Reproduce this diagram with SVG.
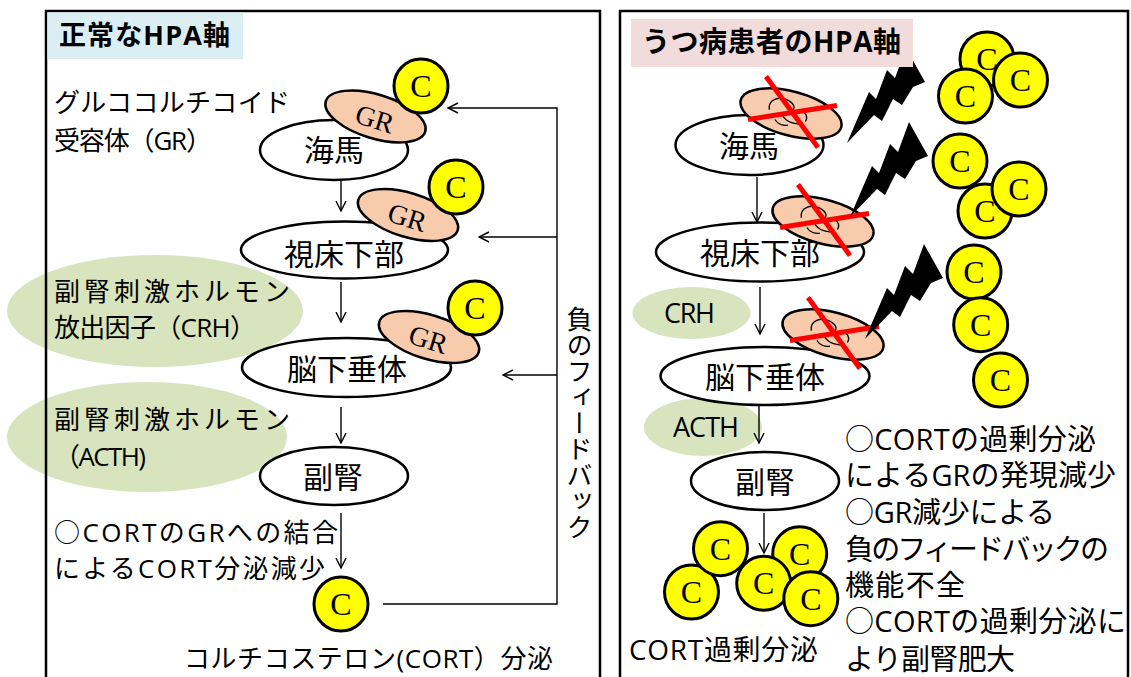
<svg xmlns="http://www.w3.org/2000/svg" width="1131" height="677" viewBox="0 0 1131 677">
<defs>
<style>
  text { font-family: "Open Sans", "Noto Sans CJK JP", sans-serif; fill: #000; }
  .ttl { font-weight: bold; }
  .lbl { font-size: 30px; text-anchor: middle; }
  .note { font-size: 26px; }
  .note2 { font-size: 29px; }
  .hl { font-size: 27px; text-anchor: middle; }
  .panel { fill: none; stroke: #000; stroke-width: 2.5; }
  .node { fill: #fff; stroke: #000; stroke-width: 2.5; }
  .hormone { fill: #d7e4bd; }
  .receptor { fill: #f8cbad; stroke: #000; stroke-width: 2.5; }
  .coin-disc { fill: #ffff00; stroke: #000; stroke-width: 3; }
  .serif { font-family: "Liberation Serif", "Times New Roman", serif; text-anchor: middle; }
  .edge { fill: none; stroke: #000; stroke-width: 1.4; }
  .cross { stroke: #ff0000; stroke-width: 5; }
  .scribble { fill: none; stroke: #000; stroke-width: 1.3; }
</style>
<marker id="arrow" viewBox="0 0 12 12" markerWidth="12" markerHeight="12" refX="10.5" refY="6" orient="auto" markerUnits="userSpaceOnUse">
  <path d="M0.5,1 L10.5,6 L0.5,11" fill="none" stroke="#000" stroke-width="1.4"/>
</marker>
<!-- cortisol molecule -->
<g id="coin">
  <circle class="coin-disc" r="27"/>
  <text class="serif" y="11" font-size="32">C</text>
</g>
<!-- glucocorticoid receptor -->
<g id="gr">
  <g transform="rotate(17)">
    <ellipse class="receptor" rx="52" ry="22"/>
    <text class="serif" y="12" font-size="28">GR</text>
  </g>
</g>
<!-- receptor crossed out -->
<g id="gr-broken">
  <g transform="rotate(15)">
    <ellipse class="receptor" rx="52" ry="22"/>
    <path class="scribble" d="M-22,2 C-26,-8 -16,-14 -6,-12 C2,-10 4,-4 -2,-2"/>
    <path class="scribble" d="M-8,4 C-2,10 8,10 14,6"/>
    <path class="scribble" d="M6,-6 C12,-6 18,-2 16,4"/>
    <path class="scribble" d="M-14,10 C-10,14 -4,14 0,12"/>
  </g>
  <line class="cross" x1="-25" y1="-37" x2="27" y2="34"/>
  <line class="cross" x1="-43" y1="6" x2="46" y2="-8"/>
</g>
<polygon id="bolt" fill="#000" points="850,217 872,166 879,173 890,144 898,152 909,122 928,156 916,161 905,179 896,173 885,195 877,189"/>
</defs>

<rect width="1131" height="677" fill="#fff"/>

<!-- ===== normal HPA axis ===== -->
<g id="panel-normal">
  <ellipse class="hormone" cx="155" cy="311" rx="148" ry="56"/>
  <ellipse class="hormone" cx="147" cy="437" rx="140" ry="55"/>
  <rect class="panel" x="46" y="11" width="554" height="690"/>
  <rect x="47.5" y="12.5" width="195.5" height="46.5" fill="#dbeef4"/>
  <text class="ttl" x="59" y="45" font-size="27" textLength="171">正常なHPA軸</text>
</g>

<g id="labels-normal">
  <text class="note" x="54" y="111.5" textLength="236">グルココルチコイド</text>
  <text class="note" x="54" y="150" textLength="158">受容体（GR）</text>
  <text class="note" x="54" y="300.5" textLength="236">副腎刺激ホルモン</text>
  <text class="note" x="54" y="337" textLength="202">放出因子（CRH）</text>
  <text class="note" x="54" y="428.5" textLength="236">副腎刺激ホルモン</text>
  <text class="note" x="54" y="465.5" textLength="92">（ACTH)</text>
  <text class="note" x="54" y="541.5" textLength="284">○CORTのGRへの結合</text>
  <text class="note" x="54" y="577.5" textLength="271">によるCORT分泌減少</text>
  <text class="note" x="184" y="667.5" textLength="369">コルチコステロン(CORT）分泌</text>
  <text class="note" x="578" y="306" style="writing-mode: vertical-rl">負のフィードバック</text>
</g>

<g id="edges-normal">
  <line class="edge" x1="341" y1="180" x2="341" y2="211" marker-end="url(#arrow)"/>
  <line class="edge" x1="341" y1="282" x2="341" y2="322" marker-end="url(#arrow)"/>
  <line class="edge" x1="341" y1="407" x2="341" y2="443" marker-end="url(#arrow)"/>
  <line class="edge" x1="341" y1="513" x2="341" y2="568" marker-end="url(#arrow)"/>
  <polyline class="edge" points="383,604 557,604 557,108 448,108" marker-end="url(#arrow)"/>
  <line class="edge" x1="557" y1="237" x2="479" y2="237" marker-end="url(#arrow)"/>
  <line class="edge" x1="557" y1="375" x2="503" y2="375" marker-end="url(#arrow)"/>
</g>

<g id="node-hippocampus-normal">
  <ellipse class="node" cx="334" cy="150" rx="74" ry="30"/>
  <text class="lbl" x="334" y="161">海馬</text>
  <use href="#gr" transform="translate(375.5,116.5)"/>
  <use href="#coin" transform="translate(421,86)"/>
</g>
<g id="node-hypothalamus-normal">
  <ellipse class="node" cx="344.5" cy="250" rx="103.5" ry="28.5"/>
  <text class="lbl" x="344" y="264.5">視床下部</text>
  <use href="#gr" transform="translate(408,215)"/>
  <use href="#coin" transform="translate(456,187)"/>
</g>
<g id="node-pituitary-normal">
  <ellipse class="node" cx="346.5" cy="367.5" rx="104.5" ry="29.5"/>
  <text class="lbl" x="347" y="380">脳下垂体</text>
  <use href="#gr" transform="translate(429,337)"/>
  <use href="#coin" transform="translate(475,308)"/>
</g>
<g id="node-adrenal-normal">
  <ellipse class="node" cx="334" cy="476" rx="74" ry="29"/>
  <text class="lbl" x="333" y="488">副腎</text>
</g>
<g id="node-cort-normal">
  <use href="#coin" transform="translate(341,604)"/>
</g>

<!-- ===== HPA axis in depression ===== -->
<g id="panel-depression">
  <rect class="panel" x="620" y="11" width="508" height="690"/>
</g>

<g id="hormone-crh">
  <ellipse class="hormone" cx="691.5" cy="313" rx="59" ry="26"/>
  <text class="hl" x="689.5" y="323" textLength="51">CRH</text>
</g>
<g id="hormone-acth">
  <ellipse class="hormone" cx="703" cy="427" rx="59" ry="29"/>
  <text class="hl" x="706" y="437" textLength="66">ACTH</text>
</g>

<g id="edges-depression">
  <line class="edge" x1="757" y1="177" x2="757" y2="222" marker-end="url(#arrow)"/>
  <line class="edge" x1="760" y1="287" x2="760" y2="334" marker-end="url(#arrow)"/>
  <line class="edge" x1="759" y1="405" x2="759" y2="443" marker-end="url(#arrow)"/>
  <line class="edge" x1="764" y1="513" x2="764" y2="553" marker-end="url(#arrow)"/>
</g>

<g id="node-hippocampus-dep">
  <ellipse class="node" cx="749.5" cy="145" rx="74" ry="30"/>
  <text class="lbl" x="749" y="157">海馬</text>
  <use href="#gr-broken" transform="translate(791,113.5)"/>
</g>
<g id="node-hypothalamus-dep">
  <ellipse class="node" cx="760" cy="252" rx="104" ry="29.5"/>
  <text class="lbl" x="760" y="264">視床下部</text>
  <use href="#gr-broken" transform="translate(823,221.5)"/>
</g>
<g id="node-pituitary-dep">
  <ellipse class="node" cx="765" cy="376" rx="104.5" ry="29"/>
  <text class="lbl" x="765" y="387.5">脳下垂体</text>
  <use href="#gr-broken" transform="translate(833,334.5)"/>
</g>
<g id="node-adrenal-dep">
  <ellipse class="node" cx="765" cy="481" rx="74" ry="29"/>
  <text class="lbl" x="765" y="492.5">副腎</text>
</g>

<g id="stress-bolts">
  <use href="#bolt" transform="translate(-3,-74)"/>
  <use href="#bolt"/>
  <use href="#bolt" transform="translate(15,122)"/>
</g>

<g id="title-depression">
  <rect x="631" y="19" width="282" height="48" fill="#f2dcdb"/>
  <text class="ttl" x="642" y="52" font-size="28" textLength="259">うつ病患者のHPA軸</text>
</g>

<g id="cort-excess-top">
  <use href="#coin" transform="translate(987,59)"/>
  <use href="#coin" transform="translate(965.5,96)"/>
  <use href="#coin" transform="translate(1020.5,80)"/>
  <use href="#coin" transform="translate(960,161)"/>
  <use href="#coin" transform="translate(985,211)"/>
  <use href="#coin" transform="translate(1019,189)"/>
  <use href="#coin" transform="translate(974,272)"/>
  <use href="#coin" transform="translate(980.7,324.7)"/>
  <use href="#coin" transform="translate(1000.5,380)"/>
</g>

<g id="cort-excess-bottom">
  <use href="#coin" transform="translate(691.5,592)"/>
  <use href="#coin" transform="translate(720.5,548.7)"/>
  <use href="#coin" transform="translate(799.7,553.8)"/>
  <use href="#coin" transform="translate(763.7,583.3)"/>
  <use href="#coin" transform="translate(810.8,598.7)"/>
</g>

<g id="labels-depression">
  <text x="629" y="660" style="font-size:28px" textLength="189">CORT過剰分泌</text>
  <text class="note2" x="845" y="449.5" textLength="251">○CORTの過剰分泌</text>
  <text class="note2" x="845" y="486" textLength="271">によるGRの発現減少</text>
  <text class="note2" x="845" y="522.5" textLength="210">○GR減少による</text>
  <text class="note2" x="845" y="559.5" textLength="264">負のフィードバックの</text>
  <text class="note2" x="845" y="596" textLength="120">機能不全</text>
  <text class="note2" x="845" y="632" textLength="281">○CORTの過剰分泌に</text>
  <text class="note2" x="845" y="669.5" textLength="170">より副腎肥大</text>
</g>
</svg>
